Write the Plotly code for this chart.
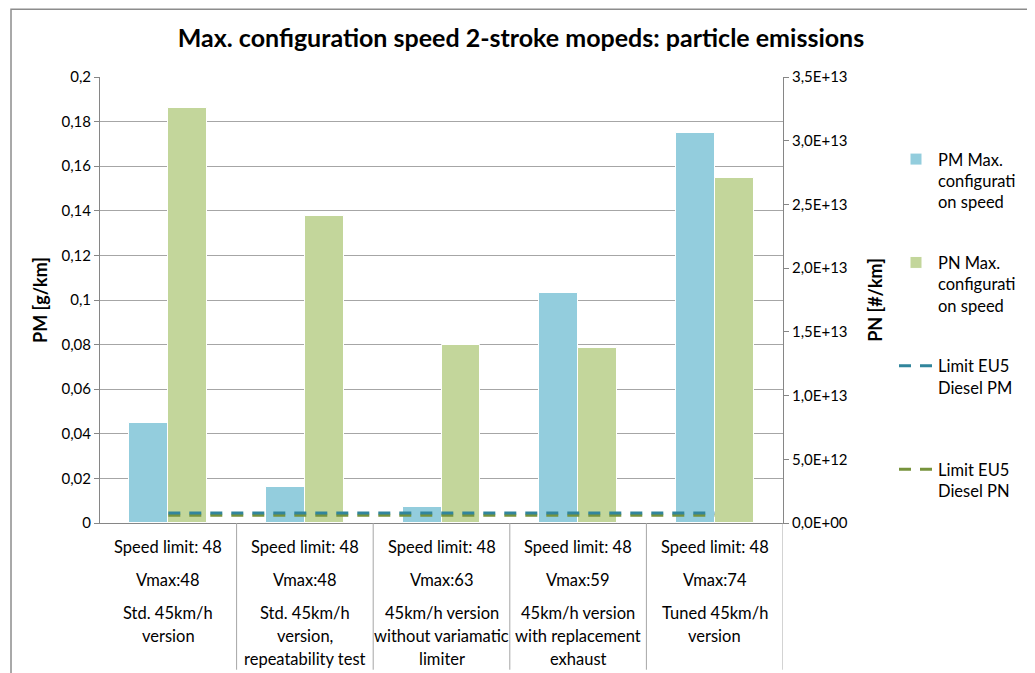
import plotly.graph_objects as go

# ---------------- data ----------------
categories = [
    "Std. 45km/h version",
    "Std. 45km/h version, repeatability test",
    "45km/h version without variamatic limiter",
    "45km/h version with replacement exhaust",
    "Tuned 45km/h version",
]
speed_limits = [48, 48, 48, 48, 48]
vmax = [48, 48, 63, 59, 74]
descriptions = [
    ["Std. 45km/h", "version"],
    ["Std. 45km/h", "version,", "repeatability test"],
    ["45km/h version", "without variamatic", "limiter"],
    ["45km/h version", "with replacement", "exhaust"],
    ["Tuned 45km/h", "version"],
]
pm_values = [0.045, 0.016, 0.007, 0.103, 0.175]          # g/km
pn_values = [3.26e13, 2.41e13, 1.40e13, 1.375e13, 2.71e13]  # #/km
limit_pm = 0.0045
limit_pn = 6.0e11

pm_ticks = [0, 0.02, 0.04, 0.06, 0.08, 0.1, 0.12, 0.14, 0.16, 0.18, 0.2]
pm_ticklabels = ["0", "0,02", "0,04", "0,06", "0,08", "0,1", "0,12", "0,14", "0,16", "0,18", "0,2"]
pn_ticks = [0, 5e12, 1e13, 1.5e13, 2e13, 2.5e13, 3e13, 3.5e13]
pn_ticklabels = ["0,0E+00", "5,0E+12", "1,0E+13", "1,5E+13", "2,0E+13", "2,5E+13", "3,0E+13", "3,5E+13"]

series_names = [
    "PM Max.<br>configurati<br>on speed",
    "PN Max.<br>configurati<br>on speed",
    "Limit EU5<br>Diesel PM<br> ",
    "Limit EU5<br>Diesel PN<br> ",
]
title_text = "Max. configuration speed 2-stroke mopeds: particle emissions"

# ---------------- styling ----------------
FONT = "Lato, Carlito, Calibri, sans-serif"
BLUE = "#93CDDD"
GREEN = "#C3D69B"
LINE_PM = "#31859C"
LINE_PN = "#77933C"
GRID = "#A6A6A6"
AXIS = "#868686"
CAT_SIZE = 16.5

idx = list(range(len(categories)))
bw = 0.285

fig = go.Figure()
fig.add_trace(go.Bar(
    x=idx, y=pm_values, name=series_names[0], width=bw, offset=-bw,
    marker=dict(color=BLUE, line=dict(color="white", width=1)),
    yaxis="y", legendgroup="g1", hovertext=categories,
))
fig.add_trace(go.Bar(
    x=idx, y=pn_values, name=series_names[1], width=bw, offset=0,
    marker=dict(color=GREEN, line=dict(color="white", width=1)),
    yaxis="y2", legendgroup="g2", hovertext=categories,
))
fig.add_trace(go.Scatter(
    x=idx, y=[limit_pm] * len(idx), name=series_names[2], mode="lines",
    line=dict(color=LINE_PM, width=3, dash="12px,9px"),
    yaxis="y3", legendgroup="g3",
))
fig.add_trace(go.Scatter(
    x=idx, y=[limit_pn] * len(idx), name=series_names[3], mode="lines",
    line=dict(color=LINE_PN, width=3, dash="12px,9px"),
    yaxis="y2", legendgroup="g4",
))

annotations = []
for i in idx:
    annotations.append(dict(
        x=i, xref="x", y=0, yref="paper", yanchor="middle", yshift=-24,
        text=f"Speed limit: {speed_limits[i]}", showarrow=False,
        font=dict(family=FONT, size=CAT_SIZE, color="black")))
    annotations.append(dict(
        x=i, xref="x", y=0, yref="paper", yanchor="middle", yshift=-57,
        text=f"Vmax:{vmax[i]}", showarrow=False,
        font=dict(family=FONT, size=CAT_SIZE, color="black")))
    for j, line in enumerate(descriptions[i]):
        annotations.append(dict(
            x=i, xref="x", y=0, yref="paper", yanchor="middle", yshift=-90 - 23 * j,
            text=line, showarrow=False,
            font=dict(family=FONT, size=CAT_SIZE, color="black")))

shapes = []
for i in idx:
    shapes.append(dict(type="line", xref="x", x0=i + 0.5, x1=i + 0.5,
                       yref="paper", y0=0, y1=-0.329,
                       line=dict(color=GRID, width=1)))
# outer chart border
shapes.append(dict(type="rect", xref="paper", yref="paper",
                   x0=-0.1303, x1=1.363, y0=-0.5, y1=1.152,
                   line=dict(color="#8C8C8C", width=1.5), fillcolor="rgba(0,0,0,0)"))

fig.update_layout(
    width=1027, height=665,
    margin=dict(l=92, r=252, t=69, b=150),
    paper_bgcolor="white", plot_bgcolor="white",
    font=dict(family=FONT, size=15, color="black"),
    title=dict(text=title_text, x=0.6164, xref="paper", xanchor="center",
               y=1 - 30 / 665, yanchor="middle",
               font=dict(family=FONT, size=25, color="black", weight="bold")),
    xaxis=dict(range=[-0.5, 4.5], showticklabels=False, ticks="",
               showgrid=False, zeroline=False,
               showline=True, linecolor=AXIS, linewidth=1),
    yaxis=dict(range=[0, 0.2], tickvals=pm_ticks, ticktext=pm_ticklabels,
               ticks="outside", ticklen=5, tickcolor=AXIS,
               showline=True, linecolor=AXIS, linewidth=1,
               showgrid=True, gridcolor=GRID, gridwidth=1, zeroline=False,
               tickfont=dict(family=FONT, size=15, color="black"),
               title=dict(text="<b>PM [g/km]</b>", standoff=9,
                          font=dict(family=FONT, size=18, color="black", weight="bold"))),
    yaxis2=dict(range=[0, 3.5e13], overlaying="y", side="right",
                tickvals=pn_ticks, ticktext=pn_ticklabels,
                ticks="outside", ticklen=5, tickcolor=AXIS,
                showline=True, linecolor=AXIS, linewidth=1,
                showgrid=False, zeroline=False,
                tickfont=dict(family=FONT, size=15, color="black"),
                title=dict(text="<b>PN [#/km]</b>", standoff=22,
                           font=dict(family=FONT, size=18, color="black", weight="bold"))),
    yaxis3=dict(range=[0, 0.2], overlaying="y", visible=False),
    legend=dict(x=794 / 683, xanchor="left",
                y=1 - (142 - 77) / 447, yanchor="top",
                valign="top", tracegroupgap=36, itemwidth=34,
                font=dict(family=FONT, size=16.5, color="black"),
                bgcolor="rgba(0,0,0,0)"),
    showlegend=True,
    annotations=annotations,
    shapes=shapes,
    bargap=0, barmode="overlay",
)

fig.write_html("out.html")
